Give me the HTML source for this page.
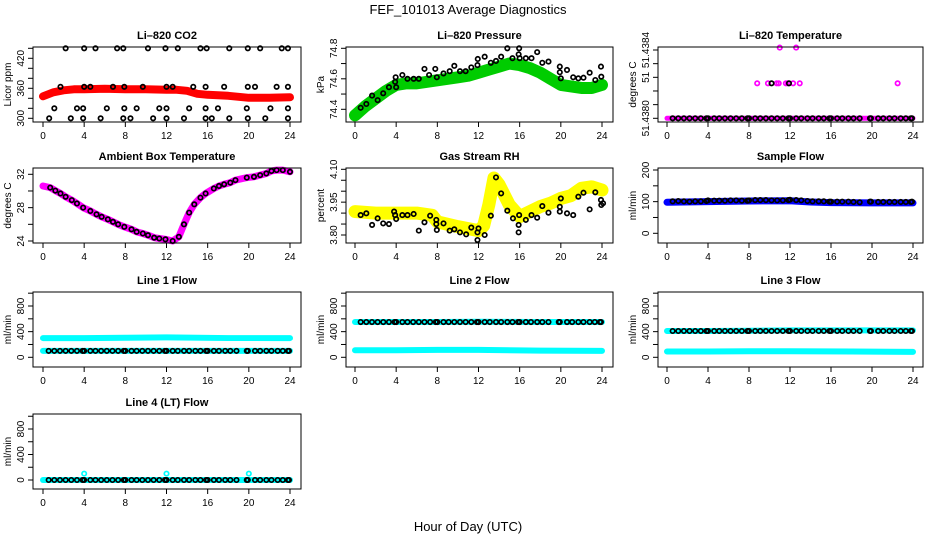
<!DOCTYPE html>
<html><head><meta charset="utf-8"><style>
body{margin:0;background:#fff;}
svg{display:block;font-family:"Liberation Sans",Arial,sans-serif;}
</style></head><body>
<svg id="c" width="936" height="540" viewBox="0 0 936 540">
<text x="468" y="14" text-anchor="middle" font-size="13">FEF_101013  Average Diagnostics</text>
<text x="468" y="531" text-anchor="middle" font-size="13">Hour of Day (UTC)</text>
</svg>
<script>
// ---------- data ----------
const xTicks=[0,4,8,12,16,20,24];
const flowHours=[0.55,1.1,1.65,2.2,2.75,3.3,3.85,4.0,4.6,5.1,5.65,6.2,6.75,7.3,7.85,8.0,8.6,9.1,9.65,10.2,10.75,11.3,11.85,12.0,12.6,13.1,13.7,14.2,14.8,15.3,15.85,16.0,16.6,17.1,17.7,18.2,18.8,19.8,19.9,20.6,21.1,21.7,22.2,22.8,23.3,23.8,23.9];
// CO2
const co2BandH=[0,0.5,1,2,3,4,6,8,10,12,13,14,14.5,15,16,18,20,22,24];
const co2BandV=[344,348,352,356,358,358,359,358,358,357,357,355,352,349,347,345,341,341,342];
const co2PtsH=[2.2,4,5.1,7.2,7.8,10.2,11.9,13.1,15.3,15.9,18.1,19.9,21.1,23.2,23.8,1.7,4,4.6,6.8,7.9,9.7,12,12.6,14.6,15.8,17.6,19.9,20.6,22.7,23.8,1.1,3.3,3.9,6.2,7.9,9.1,11.3,12,14.2,15.8,17,19.8,22.1,23.8,0.6,2.7,3.9,5.6,7.8,8.5,10.7,12,13.7,15.8,16.4,18.1,19.9,21.6,23.8];
const co2PtsV=[440,440,440,440,440,440,440,440,440,440,440,440,440,440,440,363,363,363,363,363,363,363,363,363,363,363,363,363,363,363,320,320,320,320,320,320,320,320,320,320,320,320,320,320,300,300,300,300,300,300,300,300,300,300,300,300,300,300,300];
const co2Ticks=[300,320,340,360,380,400,420,440];
const co2Labels=[300,360,420];
// Pressure
const prBandH=[0,1,2,3,4,5,6,7,8,9,10,11,12,13,14,15,16,17,18,19,20,21,22,23,24];
const prBandV=[74.36,74.42,74.47,74.52,74.56,74.57,74.57,74.58,74.59,74.60,74.61,74.62,74.64,74.66,74.68,74.70,74.69,74.67,74.64,74.60,74.56,74.55,74.54,74.54,74.56];
const prPtsH=[0.55,1.1,1.66,2.2,2.74,3.3,3.9,3.95,4,4.6,5.1,5.7,6.2,6.75,7.2,7.8,7.95,8.6,9.2,9.65,10.2,10.75,11.3,11.9,11.93,12.6,13.2,13.7,14.2,14.8,15.3,15.9,15.95,16,16.6,17.15,17.7,18.2,18.8,19.9,19.9,20,20.6,21.2,21.7,22.2,22.8,23.35,23.9,23.93];
const prPtsV=[74.41,74.435,74.49,74.46,74.505,74.545,74.58,74.61,74.545,74.625,74.6,74.6,74.6,74.665,74.625,74.665,74.61,74.635,74.65,74.685,74.65,74.65,74.675,74.69,74.73,74.745,74.705,74.717,74.745,74.8,74.735,74.76,74.8,74.735,74.735,74.735,74.775,74.705,74.713,74.68,74.643,74.603,74.658,74.61,74.603,74.607,74.64,74.592,74.68,74.614];
const prTicks=[74.4,74.5,74.6,74.7,74.8];
const prLabels=[74.4,74.6,74.8];
// Li-820 temperature
const ltBandH=[0,24];
const ltBandV=[51.4380,51.4380];
const ltMagH=[8.8,9.85,10.7,10.9,11.6,11.8,12.3,12.95,22.5,11,12.6];
const ltMagV=[51.438205,51.438205,51.438205,51.438205,51.438205,51.438205,51.438205,51.438205,51.438205,51.438414,51.438414];
const ltBlkH=[10.2,11.9];
const ltBlkV=[51.438205,51.438205];
const ltTicks=[51.4380,51.43808,51.43816,51.43824,51.43832,51.4384];
const ltLabels=["51.4380","","","51","","51.4384"];
// Ambient box temperature
const abH=[0,0.7,1.2,1.7,2.2,2.8,3.3,3.9,4.6,5.2,5.7,6.3,6.8,7.3,7.9,8.6,9.1,9.7,10.2,10.8,11.3,11.9,12.6,13.2,13.7,14.2,14.7,15.3,15.8,16.6,17.1,17.6,18.2,18.7,19.8,20.5,21.1,21.7,22.2,22.7,23.3,24];
const abV=[30.6,30.4,30.04,29.7,29.3,28.9,28.5,28.0,27.6,27.2,26.9,26.6,26.3,26.0,25.7,25.4,25.1,24.9,24.7,24.4,24.3,24.2,24.0,24.5,26.0,27.4,28.4,29.2,29.7,30.3,30.6,30.8,31.0,31.3,31.6,31.7,31.9,32.1,32.4,32.5,32.5,32.3];
const abTicks=[24,26,28,30,32];
const abLabels=[24,28,32];
// Gas stream RH
const rhBandH=[0,2,4,6,7.5,8,10,12,12.5,13,13.5,14,15,16,17,18,19,20,21,22,23,24];
const rhBandV=[3.907,3.90,3.90,3.90,3.89,3.86,3.838,3.82,3.842,3.937,4.06,4.03,3.937,3.884,3.907,3.93,3.945,3.967,3.98,4.013,4.02,4.005];
const rhPtsH=[0.55,1.1,1.66,2.2,2.74,3.3,3.8,3.9,4,4.6,5.1,5.7,6.2,6.75,7.3,7.9,7.9,7.95,8.6,9.2,9.65,10.2,10.8,11.3,11.9,12,11.9,12.6,13.2,13.7,14.2,14.8,15.35,15.95,15.9,15.9,16.6,17.15,17.7,18.2,18.8,19.9,19.9,20,20.6,21.2,21.7,22.2,22.8,23.35,23.9,23.93,24.1];
const rhPtsV=[3.891,3.899,3.846,3.876,3.853,3.85,3.907,3.891,3.873,3.891,3.891,3.896,3.82,3.858,3.888,3.869,3.85,3.823,3.853,3.82,3.826,3.812,3.803,3.834,3.812,3.83,3.777,3.80,3.888,4.063,3.99,3.911,3.876,3.891,3.846,3.812,3.869,3.891,3.879,3.932,3.902,3.929,3.907,3.967,3.899,3.891,3.975,3.993,3.917,3.995,3.96,3.937,3.945];
const rhTicks=[3.80,3.85,3.90,3.95,4.00,4.05,4.10];
const rhLabels=["3.80","","","3.95","","","4.10"];
// Sample flow
const sfBandH=[0,4,8,12,14,16,20,24];
const sfBandV=[98,100,102,103,99,97,96,96];
const sfPtsV=[101,102,101,100,101,101,102,104,103,103,103,104,104,103,103,104,105,105,105,104,104,104,105,106,105,104,102,101,101,101,100,100,100,100,100,99,98,100,100,99,99,99,99,99,99,99,100];
const flowTicks=[0,200,400,600,800,1000];
const flowLabels=[0,400,800];
const sfTicks=[0,50,100,150,200];
const sfLabels=[0,100,200];
// Line flows
const lineBandH=[0,4,8,12,18,24];
const l1BandHi=[300,300,305,310,300,300];
const l1BandLo=[100,100,100,100,100,100];
const l1Blk=100;
const l2BandHi=[550,550,550,555,550,550];
const l2BandLo=[110,110,115,115,105,100];
const l2Blk=550;
const l3BandHi=[410,410,415,420,420,420];
const l3BandLo=[90,90,95,95,90,85];
const l3Blk=410;
const l4BandLo=[0,0,0,0,0,0];
const l4Blk=0;
const l4OutH=[4,12,20];
const l4OutV=[100,100,100];

// ---------- drawing ----------
const NS="http://www.w3.org/2000/svg";
const svg=document.getElementById('c');
function mk(tag,attrs,parent){const e=document.createElementNS(NS,tag);for(const k in attrs)e.setAttribute(k,attrs[k]);(parent||svg).appendChild(e);return e;}
const cols=[{bx:33,bw:268,x0:43,x1:290},{bx:346,bw:267,x0:355,x1:602},{bx:658,bw:265,x0:667,x1:913}];
const rows=[47,168,292,414];
function panel(name,title,ytitle,col,row,v1,p1,v2,p2,ticks,labels){
  const c=cols[col],top=rows[row],h=75;
  const g=mk('g',{});
  
  
  const sx=hr=>c.x0+hr*(c.x1-c.x0)/24;
  const sy=v=>p1+(v-v1)*(p2-p1)/(v2-v1);
  const t=mk('text',{x:c.bx+c.bw/2,y:top-8,'text-anchor':'middle','font-size':11,'font-weight':'bold'},g);t.textContent=title;
  
  
  const plot=mk('g',{},g);
  const bx=mk('rect',{x:c.bx,y:top,width:c.bw,height:h,fill:'none',stroke:'#000','stroke-width':1},g);
  
  
  xTicks.forEach(v=>{const x=sx(v);mk('line',{x1:x,x2:x,y1:top+h,y2:top+h+5,stroke:'#000'},g);
    const tl=mk('text',{x:x,y:top+h+17,'text-anchor':'middle','font-size':10},g);tl.textContent=v;
    
    });
  ticks.forEach((v,i)=>{const y=sy(v);mk('line',{x1:c.bx-5,x2:c.bx,y1:y,y2:y,stroke:'#000'},g);
    const lab=labels[i];if(lab!==''&&lab!==undefined){const tl=mk('text',{x:0,y:0,'text-anchor':'middle','font-size':10,transform:`translate(${c.bx-9},${y}) rotate(-90)`},g);tl.textContent=lab;
    
    }});
  const yt=mk('text',{x:0,y:0,'text-anchor':'middle','font-size':10,transform:`translate(${c.bx-22},${top+h/2}) rotate(-90)`},g);yt.textContent=ytitle;
  
  
  return {sx,sy,plot};
}
function band(P,hs,vs,color,w,nm){
  const pts=hs.map((hh,i)=>P.sx(hh)+','+P.sy(vs[i])).join(' ');
  const e=mk('polyline',{points:pts,fill:'none',stroke:color,'stroke-width':w,'stroke-linejoin':'round','stroke-linecap':'round'},P.plot);
  
  
}
function pts(P,hs,vs,color,nm){
  hs.forEach((hh,i)=>{const e=mk('circle',{cx:P.sx(hh),cy:P.sy(vs[i]),r:2.2,fill:'none',stroke:color,'stroke-width':1.7},P.plot);
    
    });
}
function flat(v){return flowHours.map(()=>v);}

let P;
P=panel('co2-panel','Li\u2013820 CO2','Licor ppm',0,0,300,118.3,440,48.3,co2Ticks,co2Ticks.map(v=>co2Labels.includes(v)?v:''));
band(P,co2BandH,co2BandV,'#ff0000',8,'co2-band');pts(P,co2PtsH,co2PtsV,'#000','co2-point');

P=panel('pressure-panel','Li\u2013820 Pressure','kPa',1,0,74.4,109.3,74.8,48.3,prTicks,prTicks.map(v=>prLabels.includes(v)?v.toFixed(1):''));
band(P,prBandH,prBandV,'#00cc00',12,'pressure-band');pts(P,prPtsH,prPtsV,'#000','pressure-point');

P=panel('li820-temperature-panel','Li\u2013820 Temperature','degrees C',2,0,51.4380,118.3,51.4384,50,ltTicks,ltLabels);
band(P,ltBandH,ltBandV,'#ff00ff',5,'temperature-band');pts(P,ltMagH,ltMagV,'#ff00ff','temperature-point');
pts(P,flowHours,flat(51.4380),'#000','temperature-avg-point');pts(P,ltBlkH,ltBlkV,'#000','temperature-avg-point');

P=panel('ambient-temperature-panel','Ambient Box Temperature','degrees C',0,1,24,241,32,174.3,abTicks,abTicks.map(v=>abLabels.includes(v)?v:''));
band(P,abH,abV,'#ff00ff',7,'ambient-band');pts(P,abH.slice(1),abV.slice(1),'#000','ambient-point');

P=panel('gas-rh-panel','Gas Stream RH','percent',1,1,3.80,235,4.10,169.3,rhTicks,rhLabels);
band(P,rhBandH,rhBandV,'#ffff00',13,'rh-band');pts(P,rhPtsH,rhPtsV,'#000','rh-point');

P=panel('sample-flow-panel','Sample Flow','ml/min',2,1,0,233.3,200,170,sfTicks,sfTicks.map(v=>sfLabels.includes(v)?v:''));
band(P,sfBandH,sfBandV,'#0000ff',7,'sample-flow-band');pts(P,flowHours,sfPtsV,'#000','sample-flow-point');

const fl=flowTicks.map(v=>flowLabels.includes(v)?v:'');
P=panel('line1-flow-panel','Line 1 Flow','ml/min',0,2,0,357.3,800,306,flowTicks,fl);
band(P,lineBandH,l1BandHi,'#00ffff',6,'line1-high-band');band(P,lineBandH,l1BandLo,'#00ffff',6,'line1-low-band');pts(P,flowHours,flat(l1Blk),'#000','line1-point');

P=panel('line2-flow-panel','Line 2 Flow','ml/min',1,2,0,357.3,800,306,flowTicks,fl);
band(P,lineBandH,l2BandHi,'#00ffff',6,'line2-high-band');band(P,lineBandH,l2BandLo,'#00ffff',6,'line2-low-band');pts(P,flowHours,flat(l2Blk),'#000','line2-point');

P=panel('line3-flow-panel','Line 3 Flow','ml/min',2,2,0,357.3,800,306,flowTicks,fl);
band(P,lineBandH,l3BandHi,'#00ffff',6,'line3-high-band');band(P,lineBandH,l3BandLo,'#00ffff',6,'line3-low-band');pts(P,flowHours,flat(l3Blk),'#000','line3-point');

P=panel('line4-flow-panel','Line 4 (LT) Flow','ml/min',0,3,0,480,800,429,flowTicks,fl);
band(P,lineBandH,l4BandLo,'#00ffff',6,'line4-band');pts(P,l4OutH,l4OutV,'#00ffff','line4-outlier');pts(P,flowHours,flat(l4Blk),'#000','line4-point');
</script>
</body></html>
